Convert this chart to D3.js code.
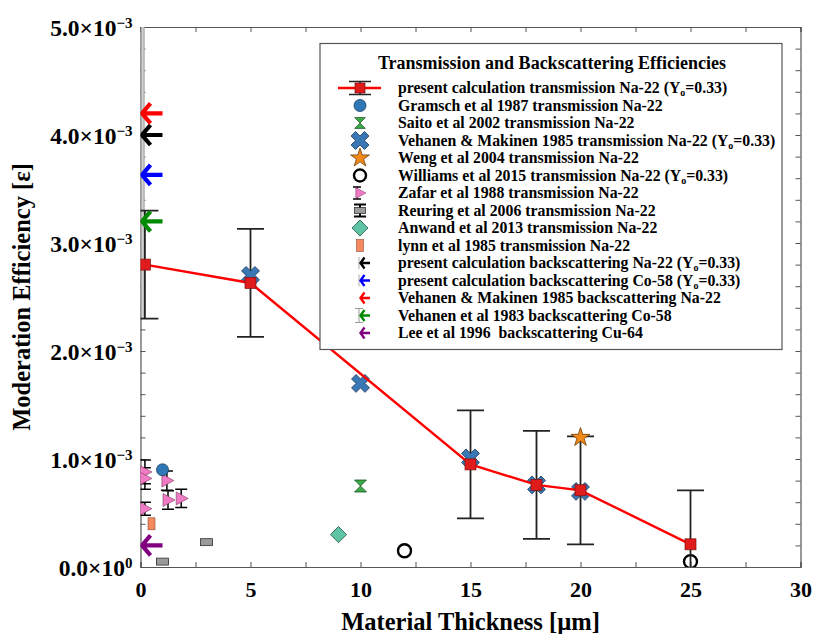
<!DOCTYPE html>
<html>
<head>
<meta charset="utf-8">
<script src="https://cdn.jsdelivr.net/npm/d3@7"></script>
<style>
  html, body { margin: 0; padding: 0; background: #fff; }
  svg text { font-family: "Liberation Serif", "Times New Roman", serif; font-weight: bold; white-space: pre; }
</style>
</head>
<body>
<svg id="chart" width="813" height="634"></svg>
<script>
// ---- data ----
const presentX   = [0.2, 5, 15, 18, 20, 25];
const presentY   = [2.8e-3, 2.63e-3, 0.95e-3, 0.76e-3, 0.71e-3, 0.21e-3];
const presentErr = [0.5e-3, 0.5e-3, 0.5e-3, 0.5e-3, 0.5e-3, 0.5e-3];

const vehanenX = [5, 10, 15, 18, 20];
const vehanenY = [2.70e-3, 1.70e-3, 1.01e-3, 0.76e-3, 0.70e-3];

const gramschX = [1];
const gramschY = [0.9e-3];

const saitoX = [10];
const saitoY = [0.75e-3];

const wengX = [20];
const wengY = [1.2e-3];

const williamsX = [12, 25];
const williamsY = [0.15e-3, 0.05e-3];

const zafarX   = [0.2, 0.2, 1.2, 1.25, 1.85, 0.2];
const zafarY   = [0.88e-3, 0.82e-3, 0.80e-3, 0.62e-3, 0.635e-3, 0.54e-3];
const zafarErr = [0.11e-3, 0.10e-3, 0.09e-3, 0.085e-3, 0.085e-3, 0.06e-3];

const reuringX   = [1, 3];
const reuringY   = [0.05e-3, 0.23e-3];
const reuringErr = [0.008e-3, 0.015e-3];

const anwandX = [9];
const anwandY = [0.3e-3];

const lynnX = [0.5];
const lynnY = [0.4e-3];

// backscattering efficiencies (thickness-independent, drawn at x = 0)
const backNames  = ["presentNa22", "presentCo58", "vehanenNa22", "vehanen1983", "lee1996"];
const backY      = [4.0e-3, 3.63e-3, 4.2e-3, 3.2e-3, 0.2e-3];
const backColors = ["#000000", "#0000ff", "#ff0000", "#008a00", "#800080"];
const vehanen1983ErrLow  = 0.9e-3;
const vehanen1983ErrHigh = 2.0e-3;

const xTicks = [0, 5, 10, 15, 20, 25, 30];
const yTicks = [0, 1e-3, 2e-3, 3e-3, 4e-3, 5e-3];

const legendTitle = "Transmission and Backscattering Efficiencies";
const legendLabels = [
  ["present calculation transmission Na-22 ", true],
  ["Gramsch et al 1987 transmission Na-22", false],
  ["Saito et al 2002 transmission Na-22", false],
  ["Vehanen & Makinen 1985 transmission Na-22 ", true],
  ["Weng et al 2004 transmission Na-22", false],
  ["Williams et al 2015 transmission Na-22 ", true],
  ["Zafar et al 1988 transmission Na-22", false],
  ["Reuring et al 2006 transmission Na-22", false],
  ["Anwand et al 2013 transmission Na-22", false],
  ["lynn et al 1985 transmission Na-22", false],
  ["present calculation backscattering Na-22 ", true],
  ["present calculation backscattering Co-58 ", true],
  ["Vehanen & Makinen 1985 backscattering Na-22", false],
  ["Vehanen et al 1983 backscattering Co-58", false],
  ["Lee et al 1996  backscattering Cu-64", false]
];
const legendKeys = ["present", "gramsch", "saito", "vehanen", "weng", "williams", "zafar",
  "reuring", "anwand", "lynn", "presentNa22", "presentCo58", "vehanenNa22", "vehanen1983", "lee1996"];

// ---- layout ----
const L = 140.5, R = 800.5, T = 27, B = 567;
const svg = d3.select("#chart");
const x = d3.scaleLinear().domain([0, 30]).range([L, R]);
const y = d3.scaleLinear().domain([0, 5e-3]).range([B, T]);

const axisColor = "#555";

svg.append("defs").append("clipPath").attr("id", "plotClip")
  .append("rect").attr("x", L).attr("y", T).attr("width", R - L).attr("height", B - T);

// ---- axes ----
function styleAxis(g) {
  g.select(".domain").attr("stroke", axisColor).attr("stroke-width", 1.2);
  g.selectAll(".tick line").attr("stroke", axisColor).attr("stroke-width", 1);
}
const xMinor = d3.range(0, 30.01, 2.5);
const yMinor = d3.range(0, 26).map(i => i * 0.2e-3);

svg.append("g").attr("transform", `translate(0,${B})`)
  .call(d3.axisBottom(x).tickValues(xMinor).tickSize(-5).tickFormat(""))
  .call(styleAxis);
svg.append("g").attr("transform", `translate(0,${T})`)
  .call(d3.axisTop(x).tickValues(xMinor).tickSize(-5).tickFormat(""))
  .call(styleAxis);
svg.append("g").attr("transform", `translate(${L},0)`)
  .call(d3.axisLeft(y).tickValues(yMinor).tickSize(-5).tickFormat(""))
  .call(styleAxis);
svg.append("g").attr("transform", `translate(${R},0)`)
  .call(d3.axisRight(y).tickValues(yMinor).tickSize(-5).tickFormat(""))
  .call(styleAxis);

// x tick labels
const xLab = svg.append("g").attr("transform", `translate(0,${B})`)
  .call(d3.axisBottom(x).tickValues(xTicks).tickSize(0).tickPadding(14).tickFormat(d3.format("d")));
xLab.select(".domain").remove();
xLab.selectAll(".tick text").attr("font-size", 22).attr("fill", "#000")
  .style("font-family", "'Liberation Serif', serif").style("font-weight", "bold");

// y tick labels with powers of ten
const yLab = svg.append("g").attr("transform", `translate(${L},0)`)
  .call(d3.axisLeft(y).tickValues(yTicks).tickSize(0).tickPadding(8));
yLab.select(".domain").remove();
yLab.selectAll(".tick text").each(function (d) {
  const t = d3.select(this).text(null).attr("font-size", 23.5).attr("fill", "#000")
    .attr("dy", "0.34em")
    .style("font-family", "'Liberation Serif', serif").style("font-weight", "bold");
  t.append("tspan").text((d / 1e-3).toFixed(1) + "×10");
  t.append("tspan").attr("dy", "-0.5em").attr("font-size", 15).text(d === 0 ? "0" : "−3");
});

// axis titles
svg.append("text").attr("x", (L + R) / 2).attr("y", 630).attr("text-anchor", "middle")
  .attr("font-size", 24.5).text("Material Thickness [µm]");
svg.append("text").attr("transform", `translate(30,${(T + B) / 2}) rotate(-90)`)
  .attr("text-anchor", "middle").attr("font-size", 24.5).text("Moderation Efficiency [ε]");

// ---- marker helpers ----
const symCross = d3.symbol().type(d3.symbolCross).size(200)();
const symStar = d3.symbol().type(d3.symbolStar).size(110)();
const symDiamond = d3.symbol().type(d3.symbolSquare).size(130)();
const hourglass = "M-6,-6L6,-6L0,0L6,6L-6,6L0,0Z";
const triRight = "M-5,-6.5L7,0L-5,6.5Z";

function arrow(g, cx, cy, color, len, head, w) {
  g.append("path")
    .attr("d", `M${cx + len},${cy}L${cx + 1},${cy}M${cx + head},${cy - head}L${cx + 1.5},${cy}L${cx + head},${cy + head}`)
    .attr("fill", "none").attr("stroke", color).attr("stroke-width", w)
    .attr("stroke-linecap", "butt").attr("stroke-linejoin", "miter");
}

function errBar(g, cx, yTop, yBot, half, color, w) {
  g.append("path")
    .attr("d", `M${cx},${yTop}L${cx},${yBot}M${cx - half},${yTop}L${cx + half},${yTop}M${cx - half},${yBot}L${cx + half},${yBot}`)
    .attr("fill", "none").attr("stroke", color).attr("stroke-width", w);
}

const plot = svg.append("g").attr("clip-path", "url(#plotClip)");

// backscattering error band for Vehanen et al 1983
plot.append("line")
  .attr("x1", x(0.1)).attr("x2", x(0.1))
  .attr("y1", y(backY[3] + vehanen1983ErrHigh)).attr("y2", y(backY[3] - vehanen1983ErrLow))
  .attr("stroke", "#a8a8a8").attr("stroke-width", 4);
plot.append("line")
  .attr("x1", x(0.1)).attr("x2", x(0.1))
  .attr("y1", y(backY[3] + vehanen1983ErrHigh)).attr("y2", y(backY[3] - vehanen1983ErrLow))
  .attr("stroke", "#d0d0d0").attr("stroke-width", 1.5);

// Reuring (gray rectangles with error bars)
reuringX.forEach((v, i) => {
  errBar(plot, x(v), y(reuringY[i] + reuringErr[i]), y(reuringY[i] - reuringErr[i]), 6, "#000", 1.5);
  plot.append("rect").attr("x", x(v) - 6).attr("y", y(reuringY[i]) - 3.5)
    .attr("width", 12).attr("height", 7).attr("fill", "#9a9a9a").attr("stroke", "#333").attr("stroke-width", 0.8);
});

// Zafar (pink right-pointing triangles with error bars)
zafarX.forEach((v, i) => {
  errBar(plot, x(v), y(zafarY[i] + zafarErr[i]), y(zafarY[i] - zafarErr[i]), 6, "#000", 1.5);
});
zafarX.forEach((v, i) => {
  plot.append("path").attr("d", triRight).attr("transform", `translate(${x(v)},${y(zafarY[i])})`)
    .attr("fill", "#f07ac4").attr("stroke", "#7a3a60").attr("stroke-width", 0.6);
});

// Gramsch
gramschX.forEach((v, i) => {
  plot.append("circle").attr("cx", x(v)).attr("cy", y(gramschY[i])).attr("r", 6)
    .attr("fill", "#2f78b8").attr("stroke", "#1a3d5c").attr("stroke-width", 0.8);
});

// Lynn
lynnX.forEach((v, i) => {
  plot.append("rect").attr("x", x(v) - 3.5).attr("y", y(lynnY[i]) - 6)
    .attr("width", 7).attr("height", 12).attr("fill", "#f4895f").attr("stroke", "#8a4a30").attr("stroke-width", 0.6);
});

// Anwand
anwandX.forEach((v, i) => {
  plot.append("path").attr("d", symDiamond).attr("transform", `translate(${x(v)},${y(anwandY[i])}) rotate(45)`)
    .attr("fill", "#5fc4a4").attr("stroke", "#2c5a4c").attr("stroke-width", 0.8);
});

// Saito
saitoX.forEach((v, i) => {
  plot.append("path").attr("d", hourglass).attr("transform", `translate(${x(v)},${y(saitoY[i])})`)
    .attr("fill", "#3bab4a").attr("stroke", "#1c4f22").attr("stroke-width", 0.8);
});

// Williams (open circles)
williamsX.forEach((v, i) => {
  plot.append("circle").attr("cx", x(v)).attr("cy", y(williamsY[i])).attr("r", 6.5)
    .attr("fill", "none").attr("stroke", "#000").attr("stroke-width", 2.4);
});

// present calculation error bars
presentX.forEach((v, i) => {
  errBar(plot, x(v), y(presentY[i] + presentErr[i]), y(presentY[i] - presentErr[i]), 13.5, "#222", 1.8);
});

// Vehanen & Makinen transmission (blue crosses)
vehanenX.forEach((v, i) => {
  plot.append("path").attr("d", symCross).attr("transform", `translate(${x(v)},${y(vehanenY[i])}) rotate(45)`)
    .attr("fill", "#3a78b5").attr("stroke", "#1b3a5a").attr("stroke-width", 0.8);
});

// present calculation line and squares
const line = d3.line().x((d, i) => x(presentX[i])).y(d => y(d));
plot.append("path").datum(presentY).attr("d", line)
  .attr("fill", "none").attr("stroke", "#ff0000").attr("stroke-width", 2.4);
presentX.forEach((v, i) => {
  plot.append("rect").attr("x", x(v) - 5.5).attr("y", y(presentY[i]) - 5.5)
    .attr("width", 11).attr("height", 11).attr("fill", "#e01b1b").attr("stroke", "#7a1010").attr("stroke-width", 0.7);
});

// Weng (star)
wengX.forEach((v, i) => {
  plot.append("path").attr("d", symStar).attr("transform", `translate(${x(v)},${y(wengY[i])})`)
    .attr("fill", "#f28a1a").attr("stroke", "#6a3a08").attr("stroke-width", 0.8);
});

// backscattering arrows at the thickness axis
backY.forEach((v, i) => {
  arrow(plot, x(0), y(v), backColors[i], 22, 10, 4.2);
});

// ---- legend ----
const lg = svg.append("g");
const lgX = 320, lgY = 43.5, lgW = 462, lgH = 306;
lg.append("rect").attr("x", lgX).attr("y", lgY).attr("width", lgW).attr("height", lgH)
  .attr("fill", "#fff").attr("stroke", "#555").attr("stroke-width", 1.2);
lg.append("text").attr("x", lgX + lgW / 2 + 1).attr("y", lgY + 25).attr("text-anchor", "middle")
  .attr("font-size", 18).text(legendTitle);

const rowY0 = 88, rowDy = 17.5, keyX = 360, textX = 398;
legendKeys.forEach((k, i) => {
  const cy = rowY0 + i * rowDy;
  const g = lg.append("g");
  switch (k) {
    case "present":
      g.append("line").attr("x1", 338).attr("x2", 381).attr("y1", cy).attr("y2", cy)
        .attr("stroke", "#ff0000").attr("stroke-width", 2.4);
      errBar(g, keyX, cy - 6.5, cy + 6.5, 11, "#222", 1.6);
      g.append("rect").attr("x", keyX - 5).attr("y", cy - 5).attr("width", 10).attr("height", 10)
        .attr("fill", "#e01b1b").attr("stroke", "#7a1010").attr("stroke-width", 0.7);
      break;
    case "gramsch":
      g.append("circle").attr("cx", keyX).attr("cy", cy).attr("r", 6)
        .attr("fill", "#2f78b8").attr("stroke", "#1a3d5c").attr("stroke-width", 0.8);
      break;
    case "saito":
      g.append("path").attr("d", hourglass).attr("transform", `translate(${keyX},${cy}) scale(0.9)`)
        .attr("fill", "#3bab4a").attr("stroke", "#1c4f22").attr("stroke-width", 0.8);
      break;
    case "vehanen":
      g.append("path").attr("d", symCross).attr("transform", `translate(${keyX},${cy}) rotate(45)`)
        .attr("fill", "#3a78b5").attr("stroke", "#1b3a5a").attr("stroke-width", 0.8);
      break;
    case "weng":
      g.append("path").attr("d", symStar).attr("transform", `translate(${keyX},${cy})`)
        .attr("fill", "#f28a1a").attr("stroke", "#6a3a08").attr("stroke-width", 0.8);
      break;
    case "williams":
      g.append("circle").attr("cx", keyX).attr("cy", cy).attr("r", 6)
        .attr("fill", "none").attr("stroke", "#000").attr("stroke-width", 2.4);
      break;
    case "zafar":
      errBar(g, keyX - 3, cy - 6, cy + 6, 4, "#000", 1.4);
      g.append("path").attr("d", triRight).attr("transform", `translate(${keyX},${cy}) scale(0.85)`)
        .attr("fill", "#f07ac4").attr("stroke", "#7a3a60").attr("stroke-width", 0.6);
      break;
    case "reuring":
      errBar(g, keyX, cy - 6, cy + 6, 6, "#000", 2);
      g.append("rect").attr("x", keyX - 5.5).attr("y", cy - 3).attr("width", 11).attr("height", 6)
        .attr("fill", "#9a9a9a").attr("stroke", "#333").attr("stroke-width", 0.8);
      break;
    case "anwand":
      g.append("path").attr("d", symDiamond).attr("transform", `translate(${keyX},${cy}) rotate(45)`)
        .attr("fill", "#5fc4a4").attr("stroke", "#2c5a4c").attr("stroke-width", 0.8);
      break;
    case "lynn":
      g.append("rect").attr("x", keyX - 3.5).attr("y", cy - 6).attr("width", 7).attr("height", 12)
        .attr("fill", "#f4895f").attr("stroke", "#8a4a30").attr("stroke-width", 0.6);
      break;
    default: {
      const bi = backNames.indexOf(k);
      if (k === "vehanen1983") errBar(g, keyX - 1, cy - 7, cy + 7, 4, "#999", 1);
      else if (k === "presentNa22" || k === "presentCo58")
        g.append("line").attr("x1", keyX - 1).attr("x2", keyX - 1).attr("y1", cy - 6).attr("y2", cy + 6)
          .attr("stroke", "#aaa").attr("stroke-width", 1);
      arrow(g, keyX - 1, cy, backColors[bi], 11, 5.5, 2.4);
    }
  }
  const t = g.append("text").attr("x", textX).attr("y", cy + 5).attr("font-size", 15.8);
  t.append("tspan").text(legendLabels[i][0]);
  if (legendLabels[i][1]) {
    t.append("tspan").text("(Y");
    t.append("tspan").attr("font-size", 10).attr("dy", 3).text("o");
    t.append("tspan").attr("dy", -3).text("=0.33)");
  }
});
</script>
</body>
</html>
